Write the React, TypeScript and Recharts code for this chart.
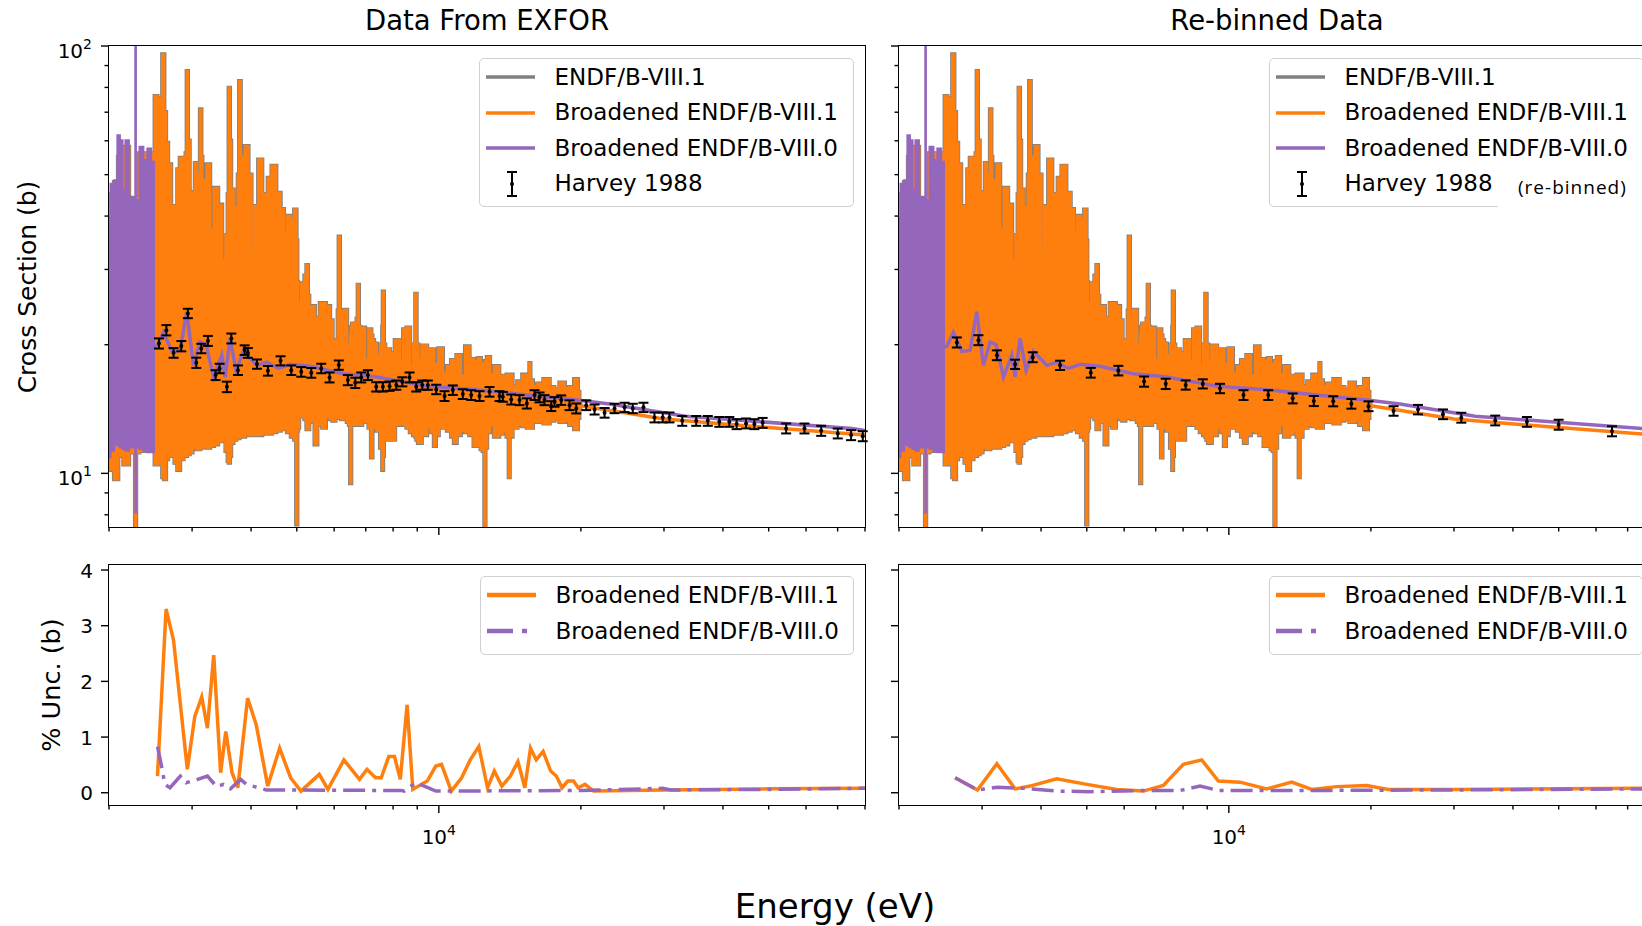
import React from 'react';
import { ComposedChart, Area, Line, Scatter, ErrorBar, XAxis, YAxis } from 'recharts';

const ORANGE = '#ff7f0e';
const PURPLE = '#9467bd';
const GRAY = '#808080';
const FONT = '"DejaVu Sans", sans-serif';

// axis ticks
const X_TICKS = [2000, 3000, 4000, 5000, 6000, 7000, 8000, 9000, 10000, 20000, 30000, 40000, 50000, 60000, 70000, 80000];
const XS_TICKS = [8, 9, 10, 20, 30, 40, 50, 60, 70, 80, 90, 100];
const UNC_TICKS = [0, 1, 2, 3, 4];

// ENDF/B-VIII.1 (and broadened) resonance band, [E (eV), low, high] in barns
const ENDF_BAND: [number, number, number][] = [
  [2000, 10.6, 40], [2030, 10.2, 45], [2072, 9.7, 48], [2110, 11.0, 55], [2184, 10.5, 58],
  [2225, 11.2, 44], [2268, 11.2, 44], [2277, 7.0, 44], [2286, 11.2, 44], [2348, 11.3, 56],
  [2440, 11.4, 56], [2498, 11.3, 54],
  [2504, 10.5, 76.3], [2560, 10.6, 75.5], [2585, 10.5, 75], [2606, 9.8, 95.5], [2630, 9.7, 70],
  [2650, 10.8, 59.3], [2684, 11.0, 52.8], [2729, 11.0, 42.2], [2782, 10.6, 41.0], [2804, 10.2, 51.4],
  [2851, 10.8, 54.7], [2898, 11.0, 54.7], [2919, 11.0, 56], [2930, 11.1, 87.3], [2945, 11.1, 60],
  [2980, 11.2, 44.1], [3028, 11.5, 45.5], [3058, 11.5, 53.2], [3080, 11.4, 50], [3092, 11.4, 34.6],
  [3110, 11.4, 50], [3129, 11.5, 71.0], [3144, 11.5, 55], [3159, 11.5, 41.4], [3195, 11.6, 48.5],
  [3247, 11.5, 52.8], [3301, 11.6, 37.2], [3371, 11.7, 46.5], [3438, 11.9, 42.5], [3505, 11.9, 31.6],
  [3562, 11.3, 36], [3580, 10.7, 45], [3597, 10.6, 79.8], [3615, 11.0, 60], [3639, 11.8, 46.1],
  [3698, 12.0, 37.8], [3740, 12.1, 42], [3765, 12.1, 50], [3789, 12.2, 82.7], [3813, 12.2, 55],
  [3851, 12.2, 39.3], [3915, 12.3, 58.3], [3979, 12.3, 50], [4032, 12.3, 32.8], [4097, 12.3, 42.2],
  [4193, 12.3, 54.2], [4250, 12.4, 45], [4282, 12.4, 29.7], [4313, 12.4, 45], [4373, 12.4, 49.1],
  [4474, 12.5, 52.4], [4569, 12.6, 45.3], [4667, 12.7, 41.5], [4720, 12.7, 36.6], [4820, 12.5, 40.0],
  [4901, 12.2, 39], [4980, 12.0, 41.4], [4999, 7.6, 35], [5020, 12.6, 28], [5037, 12.8, 25.0],
  [5070, 13.8, 25.0], [5160, 13.6, 27.8], [5227, 13.4, 29], [5263, 12.7, 30.7], [5288, 12.7, 26],
  [5332, 13.2, 24.6], [5420, 13.2, 24.6], [5494, 11.7, 23.1], [5553, 13.5, 19.8], [5644, 13.0, 25.0],
  [5689, 12.8, 25], [5830, 13.6, 24.6], [5927, 13.4, 22.8], [5974, 13.3, 20.5], [6092, 13.5, 20.5],
  [6127, 13.5, 24], [6151, 13.5, 35.8], [6181, 13.5, 24], [6242, 13.4, 18.1], [6347, 13.8, 24.1],
  [6427, 13.2, 18.1], [6481, 13.0, 20], [6503, 9.5, 21], [6529, 13.0, 22], [6586, 13.0, 22.4],
  [6674, 13.0, 21.5], [6724, 13.0, 23], [6749, 13.0, 27.6], [6780, 13.0, 22], [6830, 13.0, 20.5],
  [6917, 13.2, 21.9], [7031, 13.2, 18.4], [7169, 12.8, 21.7], [7205, 10.9, 21], [7251, 12.8, 20.5],
  [7322, 12.8, 20.1], [7441, 12.6, 18.9], [7583, 11.5, 20], [7602, 10.2, 22], [7623, 11.0, 26.6],
  [7662, 12.0, 20], [7725, 12.0, 17.8], [7811, 12.0, 19.5], [7942, 12.0, 19.1], [8203, 13.0, 20.5],
  [8340, 13.2, 18.2], [8476, 13.0, 21.7], [8614, 12.8, 21.9], [8758, 12.5, 17.8], [8900, 12.3, 20],
  [8944, 12.2, 26.3], [8987, 12.0, 20], [9089, 11.8, 18.4], [9300, 12.3, 19.9], [9573, 12.8, 19.5],
  [9728, 12.5, 19.5], [9809, 11.6, 18], [9891, 12.3, 16.9], [10087, 12.8, 19.6], [10300, 12.8, 17.1],
  [10520, 12.6, 17.8], [10725, 12.2, 18.4], [10817, 11.8, 18.2], [10991, 12.3, 18.9], [11262, 12.6, 16.9],
  [11485, 12.5, 19.8], [11734, 12.3, 18.5], [11982, 11.6, 18.3], [12219, 11.6, 18.6], [12321, 11.4, 17.7],
  [12477, 11.3, 18], [12520, 7.0, 18], [12569, 11.5, 18.3], [12724, 12.5, 18.7], [12937, 13.0, 17],
  [13255, 12.2, 17.8], [13583, 12.4, 16.9], [13804, 12.6, 16.9], [14054, 12.2, 17], [14096, 9.8, 17],
  [14145, 12.2, 17], [14494, 12.8, 16.0], [14853, 13.0, 16.4], [15220, 12.9, 17], [15542, 12.8, 17],
  [15592, 12.8, 18.1], [15654, 12.8, 16.5], [15977, 13.2, 16.0], [16372, 13.2, 16.2], [16966, 13.1, 16.6],
  [17362, 13.3, 15.9], [17762, 13.4, 15.7], [18290, 13.2, 16.3], [18677, 13.3, 15.8], [19138, 13.0, 15.9],
  [19584, 12.7, 16.6], [19807, 13.5, 15.5], [19866, 14.3, 14.5], [20000, 14.4, 14.4],
];

// above 20 keV the evaluations are smooth
const ENDF_SMOOTH: [number, number][] = [
  [20000, 14.4], [30000, 13.4], [50000, 12.8], [80000, 12.3],
];

// Broadened ENDF/B-VIII.0 below 2.5 keV (dense band)
const B80_BAND: [number, number, number][] = [
  [2000, 10.9, 39.8], [2030, 11.3, 47.6], [2072, 11.7, 48.5], [2095, 11.6, 61.8], [2124, 11.5, 60.2],
  [2150, 11.4, 46.0], [2184, 11.3, 60.2], [2225, 11.5, 44.4], [2270, 11.5, 44], [2277, 8.1, 110],
  [2285, 11.5, 43.6], [2294, 11.5, 43.6], [2348, 11.4, 58.1], [2384, 11.3, 54.1], [2439, 11.2, 57.6],
  [2476, 11.2, 53.6], [2503, 11.2, 53],
];

// Broadened ENDF/B-VIII.0 above 2.5 keV
const B80_LINE: [number, number][] = [
  [2503, 19.8], [2525, 19.8], [2608, 21.4], [2718, 19.3], [2829, 19.4], [2923, 23.9], [3019, 17.9],
  [3120, 20.3], [3212, 20.0], [3330, 16.8], [3467, 18.9], [3524, 16.8], [3611, 20.7], [3718, 17.4],
  [3853, 19.3], [4114, 17.9], [4318, 18.2], [4571, 17.6], [4838, 18.0], [5334, 17.8], [6276, 17.1],
  [7387, 16.8], [9427, 16.0], [12031, 15.7], [15357, 15.25], [19600, 14.84], [23050, 14.53],
  [33280, 13.6], [75050, 12.74], [80000, 12.6],
];

// Harvey 1988, [E, sigma, error]
const HARVEY_EXFOR: [number, number, number][] = [
  [2552, 20.14, 0.55], [2646, 21.63, 0.6], [2741, 19.14, 0.5], [2846, 19.85, 0.55], [2939, 23.67, 0.6],
  [3062, 18.15, 0.5], [3138, 19.6, 0.5], [3241, 20.42, 0.55], [3365, 16.98, 0.45], [3431, 17.6, 0.45],
  [3555, 15.94, 0.45], [3633, 20.69, 0.55], [3752, 17.44, 0.45], [3876, 19.43, 0.5], [3939, 19.14, 0.5],
  [4117, 18.02, 0.45], [4343, 17.38, 0.45], [4619, 18.34, 0.45], [4867, 17.44, 0.45], [5110, 17.28, 0.45],
  [5366, 17.19, 0.45], [5634, 17.6, 0.45], [5867, 16.77, 0.45], [6138, 17.92, 0.45], [6415, 16.53, 0.45],
  [6651, 16.29, 0.45], [6848, 16.77, 0.45], [7073, 16.98, 0.45], [7368, 15.94, 0.4], [7610, 15.94, 0.4],
  [7863, 16.0, 0.4], [8125, 16.09, 0.4], [8368, 16.38, 0.4], [8668, 16.77, 0.45], [8956, 15.94, 0.4],
  [9222, 16.09, 0.4], [9478, 16.09, 0.4], [9874, 15.72, 0.4], [10283, 15.17, 0.4], [10707, 15.66, 0.4],
  [11240, 15.33, 0.4], [11711, 15.25, 0.4], [12196, 15.17, 0.4], [12806, 15.52, 0.4], [13446, 15.17, 0.4],
  [13665, 15.11, 0.4], [14237, 14.89, 0.4], [14825, 14.84, 0.4], [15361, 14.58, 0.4], [15952, 15.25, 0.4],
  [16343, 15.06, 0.4], [16747, 14.84, 0.4], [17304, 14.37, 0.38], [17586, 14.7, 0.38], [18170, 14.84, 0.38],
  [18922, 14.44, 0.38], [19551, 14.19, 0.38], [20530, 14.44, 0.38], [21380, 14.11, 0.38], [22450, 13.86, 0.36],
  [23570, 14.19, 0.36], [24750, 14.27, 0.36], [25760, 14.19, 0.36], [27140, 14.27, 0.36], [28640, 13.52, 0.36],
  [29820, 13.52, 0.36], [30810, 13.52, 0.36], [32800, 13.27, 0.35], [35110, 13.27, 0.35], [37150, 13.27, 0.35],
  [39300, 13.2, 0.35], [41260, 13.2, 0.35], [42760, 13.04, 0.35], [44770, 13.09, 0.35], [46630, 13.04, 0.35],
  [48550, 13.13, 0.35], [54450, 12.74, 0.34], [59540, 12.74, 0.34], [64600, 12.58, 0.34], [70040, 12.4, 0.33],
  [74750, 12.29, 0.33], [79130, 12.22, 0.33],
];

const HARVEY_REBIN: [number, number, number][] = [
  [2652, 20.25, 0.55], [2947, 20.5, 0.55], [3224, 18.9, 0.5], [3524, 18.0, 0.45], [3841, 18.7, 0.5],
  [4389, 17.9, 0.45], [5098, 17.2, 0.45], [5833, 17.4, 0.45], [6613, 16.4, 0.45], [7350, 16.2, 0.45],
  [8102, 16.1, 0.4], [8806, 16.2, 0.4], [9580, 15.8, 0.4], [10743, 15.25, 0.4], [12120, 15.25, 0.4],
  [13655, 14.98, 0.4], [15140, 14.77, 0.4], [16640, 14.75, 0.4], [18180, 14.55, 0.38], [19770, 14.36, 0.38],
  [22340, 14.0, 0.36], [25170, 14.1, 0.36], [28430, 13.75, 0.36], [31090, 13.5, 0.36], [36690, 13.3, 0.35],
  [42820, 13.2, 0.35], [49990, 13.0, 0.35], [64850, 12.55, 0.34],
];

// % uncertainty, [E, value]
const UNC_EXFOR_81: [number, number][] = [
  [2534, 0.3], [2642, 3.3], [2740, 2.74], [2931, 0.42], [3040, 1.37], [3144, 1.72], [3233, 1.16],
  [3334, 2.47], [3448, 0.36], [3536, 1.1], [3646, 0.36], [3750, 0.09], [3933, 1.7], [4103, 1.22],
  [4339, 0.12], [4599, 0.8], [4851, 0.27], [5103, 0.03], [5580, 0.33], [5821, 0.06], [6293, 0.59],
  [6790, 0.24], [7042, 0.42], [7343, 0.27], [7551, 0.27], [7832, 0.65], [8055, 0.65], [8285, 0.24],
  [8566, 1.58], [8808, 0.06], [9450, 0.21], [9854, 0.48], [10132, 0.51], [10629, 0.03], [11176, 0.27],
  [11654, 0.59], [12155, 0.83], [12683, 0.09], [13109, 0.39], [13600, 0.12], [14180, 0.3], [14710, 0.56],
  [15213, 0.09], [15643, 0.8], [16084, 0.59], [16634, 0.74], [17256, 0.39], [17740, 0.3], [18248, 0.09],
  [18763, 0.21], [19300, 0.21], [19733, 0.09], [20406, 0.15], [21281, 0.03], [30000, 0.05], [50000, 0.07],
  [80000, 0.08],
];
const UNC_EXFOR_80: [number, number][] = [
  [2534, 0.83], [2584, 0.48], [2627, 0.15], [2694, 0.09], [2833, 0.3], [2915, 0.18], [3083, 0.24],
  [3233, 0.3], [3381, 0.11], [3497, 0.15], [3617, 0.07], [3803, 0.24], [3911, 0.15], [4313, 0.05],
  [8330, 0.04], [8449, 0.03], [8935, 0.18], [9318, 0.12], [9854, 0.03], [20000, 0.04], [29800, 0.08],
  [31000, 0.05], [50000, 0.06], [80000, 0.08],
];
const UNC_REBIN_81: [number, number][] = [
  [2630, 0.27], [2933, 0.05], [3224, 0.52], [3524, 0.07], [3792, 0.12], [4318, 0.25], [5000, 0.15],
  [5787, 0.06], [6590, 0.03], [7264, 0.13], [8009, 0.51], [8761, 0.59], [9502, 0.21], [10561, 0.19],
  [12031, 0.07], [13591, 0.19], [14983, 0.06], [16931, 0.11], [19600, 0.13], [21775, 0.06], [30000, 0.06],
  [50000, 0.07], [80000, 0.08],
];
const UNC_REBIN_80: [number, number][] = [
  [2630, 0.27], [2933, 0.05], [3224, 0.1], [3670, 0.08], [4318, 0.03], [5082, 0.02], [6484, 0.04],
  [7882, 0.04], [8690, 0.12], [9502, 0.04], [13500, 0.04], [30000, 0.05], [80000, 0.07],
];

const TOP_LEGEND = [
  { label: 'ENDF/B-VIII.1', kind: 'line', color: GRAY },
  { label: 'Broadened ENDF/B-VIII.1', kind: 'line', color: ORANGE },
  { label: 'Broadened ENDF/B-VIII.0', kind: 'line', color: PURPLE },
  { label: 'Harvey 1988', kind: 'err', color: '#000' },
];
const BOTTOM_LEGEND = [
  { label: 'Broadened ENDF/B-VIII.1', kind: 'thick', color: ORANGE },
  { label: 'Broadened ENDF/B-VIII.0', kind: 'dashdot', color: PURPLE },
];

const bandRows = (rows: [number, number, number][]) => rows.map(([e, lo, hi]) => ({ e, v: [lo, hi] }));
const lineRows = (rows: [number, number][]) => rows.map(([e, v]) => ({ e, v }));
const errRows = (rows: [number, number, number][]) => rows.map(([e, v, err]) => ({ e, v, err }));

const XTick = (props: any) => {
  const { x, y, payload, showLabel } = props;
  const major = payload.value === 10000;
  return (
    <g>
      <line x1={x} x2={x} y1={y} y2={y + (major ? 8 : 4.5)} stroke="#000" strokeWidth={1.4} />
      {showLabel && major && (
        <text x={x} y={y + 39} textAnchor="middle" fontSize={20} fontFamily={FONT} fill="#000">
          10<tspan dy={-9} fontSize={14}>4</tspan>
        </text>
      )}
    </g>
  );
};

const LogYTick = (props: any) => {
  const { x, y, payload, showLabel } = props;
  const v = payload.value;
  const major = v === 10 || v === 100;
  return (
    <g>
      <line x1={x - (major ? 8 : 4.5)} x2={x} y1={y} y2={y} stroke="#000" strokeWidth={1.4} />
      {showLabel && major && (
        <text x={x - 17} y={y + 11.5} textAnchor="end" fontSize={20} fontFamily={FONT} fill="#000">
          10<tspan dy={-9} fontSize={14}>{v === 100 ? '2' : '1'}</tspan>
        </text>
      )}
    </g>
  );
};

const LinYTick = (props: any) => {
  const { x, y, payload, showLabel } = props;
  return (
    <g>
      <line x1={x - 8} x2={x} y1={y} y2={y} stroke="#000" strokeWidth={1.4} />
      {showLabel && (
        <text x={x - 16} y={y + 7.5} textAnchor="end" fontSize={20} fontFamily={FONT} fill="#000">
          {payload.value}
        </text>
      )}
    </g>
  );
};

function TopPanel({ left, harvey, labels }: { left: number; harvey: [number, number, number][]; labels?: boolean }) {
  const band = bandRows(ENDF_BAND);
  const smooth = lineRows(ENDF_SMOOTH);
  return (
    <div style={{ position: 'absolute', left, top: 0 }}>
      <ComposedChart width={880} height={547} margin={{ top: 46, right: 15, bottom: 0, left: 0 }}>
        <XAxis dataKey="e" type="number" scale="log" domain={[2000, 80000]} allowDataOverflow ticks={X_TICKS}
          interval={0} tickSize={0} tickMargin={0} axisLine={false} height={20} tick={(p: any) => <XTick {...p} />} />
        <YAxis type="number" scale="log" domain={[7.49, 100]} allowDataOverflow ticks={XS_TICKS}
          interval={0} tickSize={0} tickMargin={0} axisLine={false} width={109}
          tick={(p: any) => <LogYTick {...p} showLabel={labels} />} />
        <Area data={band} dataKey="v" type="step" stroke={GRAY} strokeWidth={4.5} fill={GRAY} fillOpacity={1}
          dot={false} activeDot={false} isAnimationActive={false} />
        <Area data={band} dataKey="v" type="step" stroke={ORANGE} strokeWidth={2.8} fill={ORANGE} fillOpacity={1}
          dot={false} activeDot={false} isAnimationActive={false} />
        <Line data={smooth} dataKey="v" type="linear" stroke={ORANGE} strokeWidth={3.5} dot={false}
          activeDot={false} isAnimationActive={false} />
        <Area data={bandRows(B80_BAND)} dataKey="v" type="step" stroke={PURPLE} strokeWidth={2} fill={PURPLE}
          fillOpacity={1} dot={false} activeDot={false} isAnimationActive={false} />
        <Line data={lineRows(B80_LINE)} dataKey="v" type="linear" stroke={PURPLE} strokeWidth={3.5} dot={false}
          activeDot={false} isAnimationActive={false} />
        <Scatter data={errRows(harvey)} dataKey="v" isAnimationActive={false}
          shape={(p: any) => <circle cx={p.cx} cy={p.cy} r={2} fill="#000" />}>
          <ErrorBar dataKey="err" direction="y" width={5} stroke="#000" strokeWidth={2} isAnimationActive={false} />
        </Scatter>
      </ComposedChart>
    </div>
  );
}

function UncPanel({ left, v81, v80, labels }: { left: number; v81: [number, number][]; v80: [number, number][]; labels?: boolean }) {
  return (
    <div style={{ position: 'absolute', left, top: 540 }}>
      <ComposedChart width={880} height={325} margin={{ top: 25, right: 15, bottom: 0, left: 0 }}>
        <XAxis dataKey="e" type="number" scale="log" domain={[2000, 80000]} allowDataOverflow ticks={X_TICKS}
          interval={0} tickSize={0} tickMargin={0} axisLine={false} height={60}
          tick={(p: any) => <XTick {...p} showLabel />} />
        <YAxis type="number" domain={[-0.22, 4.09]} allowDataOverflow ticks={UNC_TICKS} interval={0}
          tickSize={0} tickMargin={0} axisLine={false} width={109}
          tick={(p: any) => <LinYTick {...p} showLabel={labels} />} />
        <Line data={lineRows(v81)} dataKey="v" type="linear" stroke={ORANGE} strokeWidth={3.5} dot={false}
          activeDot={false} isAnimationActive={false} />
        <Line data={lineRows(v80)} dataKey="v" type="linear" stroke={PURPLE} strokeWidth={3.5}
          strokeDasharray="22 7 4 7" dot={false} activeDot={false} isAnimationActive={false} />
      </ComposedChart>
    </div>
  );
}

const Frame = ({ left, top, w, h }: { left: number; top: number; w: number; h: number }) => (
  <div style={{ position: 'absolute', left: left - 0.75, top: top - 0.75, width: w + 1.5, height: h + 1.5,
    border: '1.5px solid #000', boxSizing: 'border-box', pointerEvents: 'none' }} />
);

function Swatch({ kind, color }: { kind: string; color: string }) {
  if (kind === 'err') {
    return (
      <svg width={56} height={30} style={{ position: 'absolute', left: 0, top: -15 }}>
        <line x1={26} x2={26} y1={3} y2={27} stroke="#000" strokeWidth={2} />
        <line x1={21} x2={31} y1={3} y2={3} stroke="#000" strokeWidth={2} />
        <line x1={21} x2={31} y1={27} y2={27} stroke="#000" strokeWidth={2} />
        <circle cx={26} cy={15} r={2} fill="#000" />
      </svg>
    );
  }
  return (
    <svg width={56} height={30} style={{ position: 'absolute', left: 0, top: -15 }}>
      <line x1={0} x2={49} y1={15} y2={15} stroke={color} strokeWidth={kind === 'line' ? 3.5 : 4.5}
        strokeDasharray={kind === 'dashdot' ? '26 9 5 9' : undefined} />
    </svg>
  );
}

function LegendBox({ left, top, width, height, rows, first, step }: any) {
  return (
    <div style={{ position: 'absolute', left, top, width, height, border: '1.5px solid #d0d0d0', borderRadius: 5,
      background: 'rgba(255,255,255,0.85)', boxSizing: 'border-box' }}>
      {rows.map((r: any, i: number) => (
        <div key={i} style={{ position: 'absolute', left: 6.5, top: first + i * step - 1.5 }}>
          <Swatch kind={r.kind} color={r.color} />
          <div style={{ position: 'absolute', left: 68.5, top: -11.5, fontSize: 23, lineHeight: '23px', whiteSpace: 'nowrap' }}>
            {r.label}
          </div>
        </div>
      ))}
    </div>
  );
}

const Text = ({ x, y, size, rotate, children, family }: any) => (
  <div style={{ position: 'absolute', left: x, top: y, fontSize: size, lineHeight: 1, whiteSpace: 'nowrap',
    fontFamily: family || FONT, transform: `translate(-50%, -50%)${rotate ? ' rotate(-90deg)' : ''}` }}>
    {children}
  </div>
);

export default function App() {
  return (
    <div style={{ position: 'relative', width: 1642, height: 926, overflow: 'hidden', background: '#fff',
      fontFamily: FONT, color: '#000' }}>
      <style>{'body{margin:0}'}</style>
      <TopPanel left={0} harvey={HARVEY_EXFOR} labels />
      <TopPanel left={790} harvey={HARVEY_REBIN} />
      <UncPanel left={0} v81={UNC_EXFOR_81} v80={UNC_EXFOR_80} labels />
      <UncPanel left={790} v81={UNC_REBIN_81} v80={UNC_REBIN_80} />
      <Frame left={109} top={46} w={756} h={481} />
      <Frame left={899} top={46} w={756} h={481} />
      <Frame left={109} top={565} w={756} h={240} />
      <Frame left={899} top={565} w={756} h={240} />

      <LegendBox left={478.5} top={58} width={375} height={149} rows={TOP_LEGEND} first={19.5} step={35.5} />
      <LegendBox left={1268.5} top={58} width={375} height={149} rows={TOP_LEGEND} first={19.5} step={35.5} />
      <LegendBox left={479.5} top={576} width={374} height={79} rows={BOTTOM_LEGEND} first={19.5} step={36} />
      <LegendBox left={1268.5} top={576} width={374} height={79} rows={BOTTOM_LEGEND} first={19.5} step={36} />

      <div style={{ position: 'absolute', left: 1498, top: 161, width: 150, height: 50, background: '#fff' }} />
      <div style={{ position: 'absolute', left: 1518, top: 187, transform: 'translateY(-50%)', fontFamily: '"Open Sans", sans-serif',
        fontSize: 19, letterSpacing: 1, lineHeight: 1, whiteSpace: 'nowrap' }}>(re-binned)</div>

      <Text x={487} y={21} size={27.5}>Data From EXFOR</Text>
      <Text x={1277} y={21} size={27.5}>Re-binned Data</Text>
      <Text x={27} y={287} size={25} rotate>Cross Section (b)</Text>
      <Text x={52} y={685} size={25.5} rotate>% Unc. (b)</Text>
      <Text x={835} y={906} size={34}>Energy (eV)</Text>
    </div>
  );
}
